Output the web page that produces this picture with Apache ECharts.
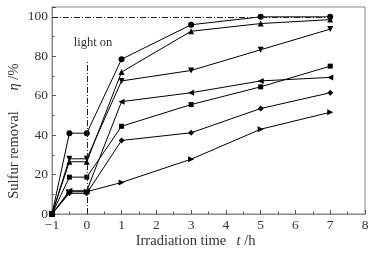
<!DOCTYPE html>
<html>
<head>
<meta charset="utf-8">
<title>Sulfur removal vs irradiation time</title>
<script src="https://cdn.jsdelivr.net/npm/echarts@6/dist/echarts.min.js"></script>
<style>
  html, body { margin: 0; padding: 0; background: #fff; }
  #main { width: 377px; height: 257px; }
</style>
</head>
<body>
<div id="main"></div>
<script>
// time points (h)
const times = [-1, -0.5, 0, 1, 3, 5, 7];

// sulfur removal, %
const sCircle   = [0, 41, 41, 78.5, 96, 100, 100];
const sTriUp    = [0, 26.5, 26.5, 72, 92.7, 96.6, 98.6];
const sTriDown  = [0, 28, 28, 67.5, 72.8, 83.3, 93.8];
const sTriLeft  = [0, 11.8, 11.8, 57, 61.5, 67.5, 69.3];
const sSquare   = [0, 18.7, 18.7, 44.5, 55.5, 64.5, 75];
const sDiamond  = [0, 10.5, 10.5, 37.3, 41.2, 53.5, 61.5];
const sTriRight = [0, 11.3, 11.3, 16, 27.8, 43, 51.6];

const yTicks = [0, 20, 40, 60, 80, 100];

const TRI_DOWN = 'path://M0,0 L10,0 L5,9 Z';
const TRI_LEFT = 'path://M9,0 L9,10 L0,5 Z';
const TRI_RIGHT = 'path://M0,0 L0,10 L9,5 Z';

const font = 'Liberation Serif';

function mk(name, vals, symbol, size) {
    return {
        name: name,
        type: 'line',
        data: times.map((t, i) => [t, vals[i]]),
        symbol: symbol,
        symbolSize: size,
        showAllSymbol: true,
        lineStyle: { color: '#000', width: 1 },
        itemStyle: { color: '#000' },
        animation: false
    };
}

const series = [
    mk('circle', sCircle, 'circle', 6),
    mk('triUp', sTriUp, 'triangle', 6),
    mk('triDown', sTriDown, TRI_DOWN, 6),
    mk('triLeft', sTriLeft, TRI_LEFT, 6),
    mk('square', sSquare, 'rect', 5),
    mk('diamond', sDiamond, 'diamond', 6),
    mk('triRight', sTriRight, TRI_RIGHT, 6)
];

// reference lines: 100 % and light switched on at t = 0
series.push({
    type: 'line',
    data: [],
    silent: true,
    markLine: {
        symbol: 'none',
        silent: true,
        animation: false,
        label: { show: false },
        lineStyle: { color: '#222', width: 1, type: [6, 2, 1, 2] },
        data: [
            [{ coord: [-1, 100] }, { coord: [7, 100] }],
            [{ coord: [0, 0] }, { coord: [0, 78] }]
        ]
    }
});

const chart = echarts.init(document.getElementById('main'));

const nameFont = '14.5px "Liberation Serif"';
const nameFontI = 'italic 14.5px "Liberation Serif"';

chart.setOption({
    animation: false,
    grid: {
        left: 52, right: 12, top: 7, bottom: 43,
        show: true, borderColor: '#888', borderWidth: 1
    },
    xAxis: {
        type: 'value',
        min: -1, max: 8, interval: 1,
        axisLine: { show: true, onZero: false, lineStyle: { color: '#888' } },
        axisTick: { inside: true, length: 4, lineStyle: { color: '#555' } },
        minorTick: { show: true, splitNumber: 2, length: 2.5, lineStyle: { color: '#555' } },
        splitLine: { show: false },
        axisLabel: {
            color: '#333', fontFamily: font, fontSize: 13.5, margin: 4,
            formatter: v => v < 0 ? '\u2212' + Math.abs(v) : String(v)
        }
    },
    yAxis: {
        type: 'value',
        min: 0, max: 105, interval: 20,
        axisLine: { show: true, onZero: false, lineStyle: { color: '#888' } },
        axisTick: { inside: true, length: 4, lineStyle: { color: '#555' } },
        minorTick: { show: true, splitNumber: 2, length: 2.5, lineStyle: { color: '#555' } },
        splitLine: { show: false },
        axisLabel: {
            color: '#333', fontFamily: font, fontSize: 13.5, margin: 4,
            formatter: v => yTicks.includes(v) ? String(v) : ''
        }
    },
    graphic: [
        {
            type: 'text', x: 93, y: 43,
            style: { text: 'light on', font: '12.5px "Liberation Serif"', fill: '#333', align: 'center', verticalAlign: 'middle' }
        },
        {
            type: 'text', x: 181, y: 241,
            style: { text: 'Irradiation time', font: nameFont, fill: '#333', align: 'center', verticalAlign: 'middle' }
        },
        {
            type: 'text', x: 246, y: 241,
            style: {
                text: '{i|t} /h', font: nameFont, fill: '#333', align: 'center', verticalAlign: 'middle',
                rich: { i: { font: nameFontI, fill: '#333' } }
            }
        },
        {
            type: 'text', x: 14, y: 155, rotation: Math.PI / 2,
            style: { text: 'Sulfur removal', font: nameFont, fill: '#333', align: 'center', verticalAlign: 'middle' }
        },
        {
            type: 'text', x: 14, y: 77, rotation: Math.PI / 2,
            style: {
                text: '{i|η} /%', font: nameFont, fill: '#333', align: 'center', verticalAlign: 'middle',
                rich: { i: { font: nameFontI, fill: '#333' } }
            }
        }
    ],
    series: series
});
</script>
</body>
</html>
